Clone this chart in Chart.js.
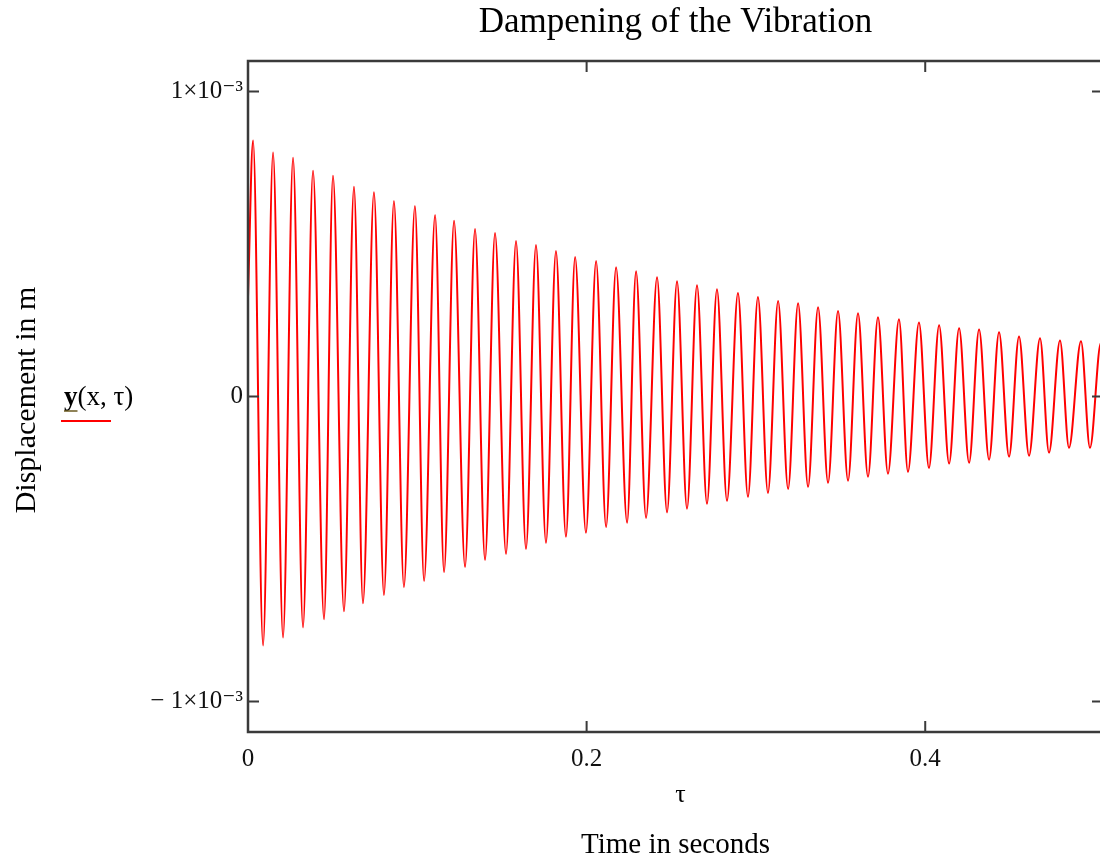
<!DOCTYPE html>
<html>
<head>
<meta charset="utf-8">
<script src="https://cdn.jsdelivr.net/npm/chart.js@4"></script>
<style>
  html, body { margin: 0; padding: 0; background: #fff; overflow: hidden; }
  canvas { display: block; }
</style>
</head>
<body>
<canvas id="vibChart" width="1106" height="861"></canvas>
<script>
// start of the signal (t = 0)
const startTime = 0;
const startValue = 0.326; // x10^-3 m

// maxima of the oscillation
const peakTimes = [0.0030, 0.0148, 0.0266, 0.0384, 0.0502, 0.0626, 0.0744, 0.0862, 0.0986,
  0.1105, 0.1217, 0.1341, 0.1459, 0.1583, 0.1701, 0.1819, 0.1932, 0.2056, 0.2174, 0.2292, 0.2416,
  0.2534, 0.2652, 0.2770, 0.2894, 0.3012, 0.3131, 0.3249, 0.3367, 0.3485, 0.3603, 0.3721, 0.3845,
  0.3963, 0.4082, 0.4200, 0.4318, 0.4436, 0.4554, 0.4678, 0.4796, 0.4920, 0.5038];
const peakValues = [0.839, 0.800, 0.783, 0.740, 0.724, 0.688, 0.670, 0.641, 0.625,
  0.595, 0.576, 0.549, 0.536, 0.510, 0.497, 0.477, 0.457, 0.444, 0.424, 0.411, 0.391,
  0.378, 0.365, 0.352, 0.339, 0.326, 0.313, 0.306, 0.293, 0.280, 0.273, 0.260, 0.253,
  0.243, 0.234, 0.224, 0.220, 0.211, 0.197, 0.191, 0.184, 0.181, 0.176];

// minima of the oscillation
const troughTimes = [0.0089, 0.0207, 0.0325, 0.0449, 0.0567, 0.0679, 0.0803, 0.0921, 0.1040,
  0.1158, 0.1282, 0.1400, 0.1524, 0.1642, 0.1760, 0.1878, 0.1996, 0.2115, 0.2239, 0.2351, 0.2475,
  0.2593, 0.2711, 0.2829, 0.2953, 0.3071, 0.3190, 0.3308, 0.3426, 0.3544, 0.3662, 0.3780, 0.3898,
  0.4022, 0.4141, 0.4259, 0.4377, 0.4495, 0.4613, 0.4731, 0.4849, 0.4973];
const troughValues = [-0.816, -0.790, -0.757, -0.730, -0.704, -0.678, -0.651, -0.625, -0.605,
  -0.576, -0.559, -0.536, -0.516, -0.500, -0.480, -0.460, -0.447, -0.428, -0.414, -0.398, -0.380,
  -0.368, -0.352, -0.342, -0.329, -0.316, -0.303, -0.296, -0.283, -0.276, -0.263, -0.253, -0.247,
  -0.234, -0.220, -0.217, -0.207, -0.197, -0.194, -0.184, -0.168, -0.168];

// last visible sample at the right edge
const endTime = 0.505;
const endValue = 0.170;

// axes
const xTickValues = [0, 0.2, 0.4];
const xTickLabels = ["0", "0.2", "0.4"];
const yTickValues = [-0.001, 0, 0.001];
const yTickLabels = ["\u2212 1\u00d710\u207b\u00b3", "0", "1\u00d710\u207b\u00b3"];

// build the point list (values stored in 10^-3 m)
const points = [{ x: startTime, y: startValue * 1e-3 }];
peakTimes.forEach((t, i) => points.push({ x: t, y: peakValues[i] * 1e-3 }));
troughTimes.forEach((t, i) => points.push({ x: t, y: troughValues[i] * 1e-3 }));
points.push({ x: endTime, y: endValue * 1e-3 });
points.sort((a, b) => a.x - b.x);

const serif = "'Liberation Serif', 'DejaVu Serif', serif";

// frame, inward ticks and the Mathcad style labels
const mathcadFrame = {
  id: "mathcadFrame",
  afterDatasetsDraw(chart) {
    const ctx = chart.ctx;
    const a = chart.chartArea;
    const xs = chart.scales.x;
    const ys = chart.scales.y;
    ctx.save();
    ctx.strokeStyle = "#3a3a3a";
    ctx.lineWidth = 2.5;
    ctx.strokeRect(a.left, a.top, a.right - a.left, a.bottom - a.top);
    ctx.lineWidth = 2;
    xTickValues.forEach((v) => {
      const px = xs.getPixelForValue(v);
      ctx.beginPath();
      ctx.moveTo(px, a.bottom); ctx.lineTo(px, a.bottom - 11);
      ctx.moveTo(px, a.top); ctx.lineTo(px, a.top + 11);
      ctx.stroke();
    });
    yTickValues.forEach((v) => {
      const py = ys.getPixelForValue(v);
      ctx.beginPath();
      ctx.moveTo(a.left, py); ctx.lineTo(a.left + 11, py);
      ctx.moveTo(a.right, py); ctx.lineTo(a.right - 11, py);
      ctx.stroke();
    });
    ctx.restore();
  },
  afterDraw(chart) {
    const ctx = chart.ctx;
    const a = chart.chartArea;
    const cx = (a.left + a.right) / 2;
    ctx.save();
    ctx.fillStyle = "#000";
    ctx.textAlign = "center";
    ctx.textBaseline = "middle";

    // title
    ctx.font = "35px " + serif;
    ctx.fillText("Dampening of the Vibration", cx, 23);

    // x axis expression and title
    ctx.font = "26px " + serif;
    ctx.fillText("\u03c4", cx + 5, 795);
    ctx.font = "29px " + serif;
    ctx.fillText("Time in seconds", cx, 845);

    // y axis title
    ctx.save();
    ctx.translate(27, 400);
    ctx.rotate(-Math.PI / 2);
    ctx.font = "30px " + serif;
    ctx.fillText("Displacement in m", 0, 0);
    ctx.restore();

    // trace legend
    ctx.textAlign = "left";
    ctx.textBaseline = "alphabetic";
    ctx.font = "bold 27px " + serif;
    ctx.fillText("y", 64, 405);
    const yw = ctx.measureText("y").width;
    ctx.font = "27px " + serif;
    ctx.fillText("(x, \u03c4)", 64 + yw, 405);
    ctx.strokeStyle = "#6b5a20";
    ctx.lineWidth = 1.5;
    ctx.beginPath();
    ctx.moveTo(64, 411); ctx.lineTo(64 + yw, 411);
    ctx.stroke();
    ctx.strokeStyle = "#ff0000";
    ctx.lineWidth = 2;
    ctx.beginPath();
    ctx.moveTo(61, 421); ctx.lineTo(111, 421);
    ctx.stroke();
    ctx.restore();
  },
};

new Chart(document.getElementById("vibChart"), {
  type: "line",
  data: {
    datasets: [
      {
        label: "y(x, \u03c4)",
        data: points,
        borderColor: "#ff0000",
        borderWidth: 2,
        pointRadius: 0,
        fill: false,
        cubicInterpolationMode: "monotone",
      },
    ],
  },
  options: {
    responsive: false,
    maintainAspectRatio: false,
    animation: false,
    layout: { padding: { top: 61, right: 3, left: 0, bottom: 0 } },
    scales: {
      x: {
        type: "linear",
        min: 0,
        max: 0.505,
        afterFit: (scale) => { scale.height = 129; },
        afterBuildTicks: (scale) => { scale.ticks = xTickValues.map((v) => ({ value: v })); },
        grid: { display: false, drawTicks: false },
        border: { display: false },
        ticks: {
          padding: 12,
          color: "#111",
          font: { family: serif, size: 25 },
          maxRotation: 0,
          callback: (value, index) => xTickLabels[index],
        },
      },
      y: {
        type: "linear",
        min: -0.0011,
        max: 0.0011,
        afterFit: (scale) => { scale.width = 248; },
        afterBuildTicks: (scale) => { scale.ticks = yTickValues.map((v) => ({ value: v })); },
        grid: { display: false, drawTicks: false },
        border: { display: false },
        ticks: {
          padding: 5,
          color: "#111",
          font: { family: serif, size: 25 },
          callback: (value, index) => yTickLabels[index],
        },
      },
    },
    plugins: {
      legend: { display: false },
      tooltip: { enabled: false },
    },
  },
  plugins: [mathcadFrame],
});
</script>
</body>
</html>
